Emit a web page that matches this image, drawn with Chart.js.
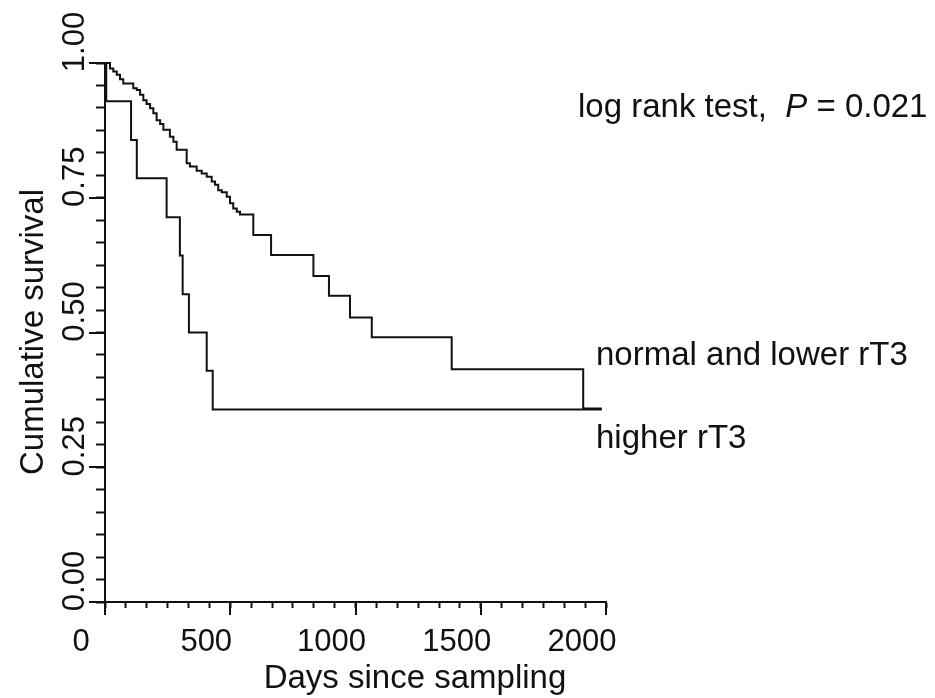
<!DOCTYPE html>
<html>
<head>
<meta charset="utf-8">
<script src="https://cdn.jsdelivr.net/npm/chart.js@4"></script>
<style>
  html, body { margin: 0; padding: 0; background: #fff; }
  #grafica { display: block; }
</style>
</head>
<body>
<canvas id="grafica" width="935" height="698"></canvas>
<script>
// Kaplan-Meier curves (days, cumulative survival)
const normalDays = [0, 20, 33, 47, 60, 73, 113, 127, 140, 153, 166, 180, 193, 206, 220, 233, 259, 273, 286, 326, 339, 366, 386, 406, 426, 439, 452, 466, 486, 499, 512, 526, 539, 592, 663, 832, 894, 978, 1065, 1384, 1909, 1983];
const normalSurv = [1.0, 0.990, 0.984, 0.978, 0.970, 0.962, 0.953, 0.950, 0.941, 0.931, 0.924, 0.916, 0.907, 0.894, 0.887, 0.876, 0.863, 0.854, 0.839, 0.814, 0.808, 0.800, 0.795, 0.789, 0.780, 0.774, 0.764, 0.760, 0.752, 0.740, 0.730, 0.724, 0.719, 0.681, 0.644, 0.605, 0.568, 0.528, 0.491, 0.432, 0.359, 0.359];

const higherDays = [0, 5, 104, 127, 246, 299, 310, 335, 406, 430, 1983];
const higherSurv = [1.0, 0.929, 0.857, 0.786, 0.714, 0.643, 0.571, 0.500, 0.429, 0.357, 0.357];

// ticks
const xMajor = [0, 500, 1000, 1500, 2000];
const xLabels = ['0', '500', '1000', '1500', '2000'];
const yMajor = [0, 0.25, 0.5, 0.75, 1];
const yLabels = ['0.00', '0.25', '0.50', '0.75', '1.00'];
const subdivisions = 6;

const ink = '#111';
const fuente = '"Liberation Sans", Arial, sans-serif';

function minorTicks(major) {
   const out = [];
   for (let i = 0; i < major.length - 1; i++) {
      const paso = (major[i + 1] - major[i]) / subdivisions;
      for (let j = 0; j < subdivisions; j++) out.push(major[i] + j * paso);
   }
   out.push(major[major.length - 1]);
   return out;
}

const puntos = (dias, surv) => dias.map((d, i) => ({ x: d, y: surv[i] }));

// major ticks, tick labels, axis titles and annotations
const decoraciones = {
   id: 'decoraciones',
   afterDraw(chart) {
      const ctx = chart.ctx;
      const sx = chart.scales.x, sy = chart.scales.y;
      const area = chart.chartArea;
      ctx.save();
      ctx.strokeStyle = ink;
      ctx.fillStyle = ink;
      ctx.lineWidth = 2;

      // long ticks
      xMajor.forEach(v => {
         const px = Math.round(sx.getPixelForValue(v));
         ctx.beginPath(); ctx.moveTo(px, area.bottom); ctx.lineTo(px, area.bottom + 13); ctx.stroke();
      });
      yMajor.forEach(v => {
         const py = Math.round(sy.getPixelForValue(v));
         ctx.beginPath(); ctx.moveTo(area.left, py); ctx.lineTo(area.left - 16, py); ctx.stroke();
      });

      // x tick labels
      ctx.font = '31px ' + fuente;
      ctx.textAlign = 'center';
      ctx.textBaseline = 'alphabetic';
      xMajor.forEach((v, i) => {
         ctx.fillText(xLabels[i], sx.getPixelForValue(v) - 24, 651);
      });
      // y tick labels (rotated)
      yMajor.forEach((v, i) => {
         ctx.save();
         ctx.translate(84, sy.getPixelForValue(v) - 21);
         ctx.rotate(-Math.PI / 2);
         ctx.fillText(yLabels[i], 0, 0);
         ctx.restore();
      });

      // axis titles
      ctx.font = '33px ' + fuente;
      ctx.fillText('Days since sampling', 415, 688);
      ctx.save();
      ctx.translate(43, 332);
      ctx.rotate(-Math.PI / 2);
      ctx.fillText('Cumulative survival', 0, 0);
      ctx.restore();

      // annotations
      ctx.textAlign = 'left';
      let x0 = 578;
      const a = 'log rank test,  ';
      ctx.fillText(a, x0, 117);
      x0 += ctx.measureText(a).width;
      ctx.font = 'italic 33px ' + fuente;
      ctx.fillText('P', x0, 117);
      x0 += ctx.measureText('P').width;
      ctx.font = '33px ' + fuente;
      ctx.fillText(' = 0.021', x0, 117);

      ctx.fillText('normal and lower rT3', 596, 365);
      ctx.fillText('higher rT3', 596, 448);
      ctx.restore();
   }
};

new Chart(document.getElementById('grafica'), {
   type: 'line',
   data: {
      datasets: [
         {
            label: 'normal and lower rT3',
            data: puntos(normalDays, normalSurv),
            stepped: true,
            borderColor: ink,
            borderWidth: 2,
            pointRadius: 0,
            fill: false,
            clip: false
         },
         {
            label: 'higher rT3',
            data: puntos(higherDays, higherSurv),
            stepped: true,
            borderColor: ink,
            borderWidth: 2,
            pointRadius: 0,
            fill: false,
            clip: false
         }
      ]
   },
   options: {
      responsive: false,
      animation: false,
      devicePixelRatio: 1,
      layout: { padding: { left: 96, top: 63, right: 329, bottom: 90 } },
      plugins: { legend: { display: false }, tooltip: { enabled: false } },
      scales: {
         x: {
            type: 'linear',
            min: 0,
            max: 2000,
            afterBuildTicks: axis => { axis.ticks = minorTicks(xMajor).map(v => ({ value: v })); },
            ticks: { display: false },
            grid: { drawOnChartArea: false, drawTicks: true, tickLength: 6, tickWidth: 2, tickColor: ink },
            border: { display: true, color: ink, width: 2 }
         },
         y: {
            type: 'linear',
            min: 0,
            max: 1,
            afterBuildTicks: axis => { axis.ticks = minorTicks(yMajor).map(v => ({ value: v })); },
            ticks: { display: false },
            grid: { drawOnChartArea: false, drawTicks: true, tickLength: 9, tickWidth: 2, tickColor: ink },
            border: { display: true, color: ink, width: 2 }
         }
      }
   },
   plugins: [decoraciones]
});
</script>
</body>
</html>
